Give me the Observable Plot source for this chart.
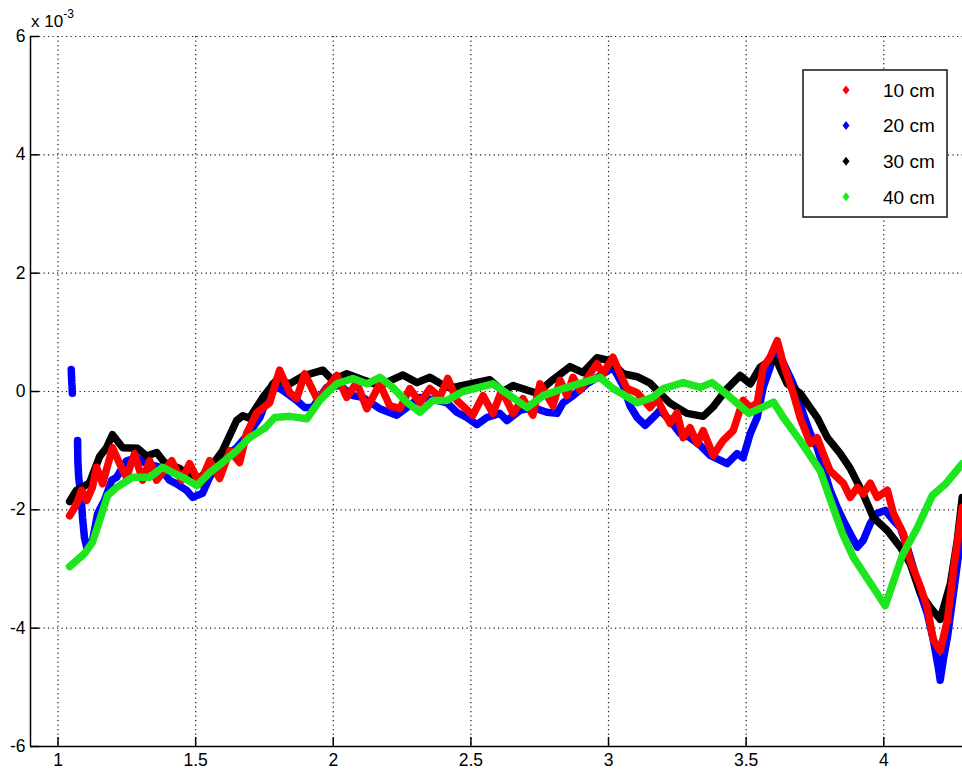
<!DOCTYPE html>
<html><head><meta charset="utf-8">
<script src="https://cdn.jsdelivr.net/npm/d3@7"></script>
<script src="https://cdn.jsdelivr.net/npm/@observablehq/plot@0.6"></script>
<style>
body{margin:0;background:#fff;}
#wrap{position:relative;width:962px;height:771px;overflow:hidden;font-family:"Liberation Sans",Arial,sans-serif;}
#exp{position:absolute;left:31px;top:9px;font-size:17px;color:#000;}
#exp sup{font-size:12px;position:relative;top:-2px;}
#legend{position:absolute;left:802px;top:69px;}
</style></head><body><div id="wrap"><div id="exp">x 10<sup>-3</sup></div></div>
<script>
// ---- data ----
const series = ["10 cm", "20 cm", "30 cm", "40 cm"];
const colors = ["#ff0000", "#0000ff", "#000000", "#1ee61e"];
const xTicks = [1, 1.5, 2, 2.5, 3, 3.5, 4];
const yTicks = [-6, -4, -2, 0, 2, 4, 6];
const xDomain = [0.9, 4.286];
const yDomain = [-6, 6];

const x10 = [1.042,1.067,1.085,1.104,1.125,1.14,1.162,1.198,1.224,1.249,1.278,1.307,1.333,1.358,1.413,1.449,1.478,1.515,1.551,1.587,1.624,1.66,1.685,1.722,1.769,1.805,1.842,1.867,1.896,1.944,2.013,2.049,2.085,2.122,2.169,2.205,2.242,2.278,2.315,2.351,2.387,2.416,2.449,2.507,2.544,2.58,2.612,2.653,2.689,2.725,2.751,2.798,2.824,2.849,2.871,2.896,2.933,2.958,2.98,3.016,3.042,3.067,3.104,3.151,3.176,3.198,3.224,3.249,3.271,3.296,3.322,3.344,3.38,3.416,3.453,3.489,3.515,3.54,3.562,3.587,3.613,3.635,3.671,3.696,3.733,3.758,3.78,3.805,3.853,3.878,3.904,3.925,3.951,3.976,4.013,4.035,4.071,4.096,4.133,4.158,4.18,4.205,4.231,4.253,4.285];
const y10 = [-2.10,-1.91,-1.67,-1.84,-1.62,-1.28,-1.56,-0.95,-1.22,-1.45,-1.05,-1.5,-1.17,-1.5,-1.17,-1.5,-1.22,-1.56,-1.17,-1.47,-1.0,-1.2,-0.71,-0.36,-0.19,0.36,-0.02,-0.12,0.3,-0.15,0.27,-0.1,0.15,-0.29,0.13,-0.24,-0.29,0.05,-0.19,0.05,-0.1,0.22,-0.15,-0.4,-0.07,-0.37,0.02,-0.37,-0.12,-0.4,0.13,-0.24,0.19,-0.07,0.24,0.02,0.3,0.47,0.3,0.58,0.3,0.05,-0.02,-0.27,-0.12,-0.32,-0.54,-0.36,-0.78,-0.61,-0.88,-0.66,-1.08,-0.83,-0.66,-0.15,-0.27,-0.2,0.41,0.58,0.86,0.47,-0.03,-0.44,-0.88,-0.78,-1.05,-1.34,-1.55,-1.79,-1.62,-1.73,-1.55,-1.79,-1.67,-2.06,-2.4,-2.86,-3.3,-3.65,-4.2,-4.38,-3.87,-3.02,-1.96];

const x20 = [1.048,1.05,1.051,1.052,1.06,1.071,1.072,1.075,1.085,1.089,1.096,1.104,1.125,1.144,1.169,1.195,1.213,1.249,1.285,1.322,1.369,1.405,1.431,1.467,1.489,1.525,1.551,1.598,1.649,1.696,1.733,1.78,1.816,1.867,1.896,1.925,1.976,2.024,2.071,2.107,2.169,2.231,2.253,2.315,2.376,2.413,2.449,2.485,2.522,2.558,2.605,2.631,2.678,2.725,2.776,2.813,2.835,2.871,2.922,2.98,3.016,3.053,3.078,3.104,3.133,3.162,3.187,3.224,3.26,3.296,3.333,3.369,3.431,3.467,3.489,3.515,3.54,3.562,3.587,3.605,3.631,3.66,3.685,3.707,3.733,3.758,3.78,3.805,3.831,3.853,3.878,3.904,3.925,3.951,3.976,4.005,4.035,4.06,4.085,4.107,4.133,4.158,4.18,4.198,4.205,4.216,4.231,4.253,4.285];
const y20 = [0.37,0.15,0.08,-0.03,NaN,-0.83,-1.17,-1.45,-1.84,-2.13,-2.47,-2.63,-2.52,-2.06,-1.84,-1.5,-1.45,-1.17,-1.12,-1.22,-1.28,-1.5,-1.56,-1.67,-1.79,-1.72,-1.45,-1.12,-0.95,-0.69,-0.44,0.13,0.02,-0.15,-0.27,-0.27,0.07,0.1,-0.07,-0.1,-0.29,-0.4,-0.32,-0.1,-0.15,-0.19,-0.35,-0.44,-0.56,-0.44,-0.37,-0.49,-0.32,-0.27,-0.35,-0.37,-0.19,-0.07,0.13,0.3,0.41,0.1,-0.24,-0.44,-0.57,-0.44,-0.32,-0.49,-0.71,-0.78,-0.91,-1.08,-1.22,-1.05,-1.12,-0.71,-0.44,0.07,0.41,0.69,0.52,0.24,-0.03,-0.37,-0.71,-0.95,-1.28,-1.67,-1.96,-2.18,-2.4,-2.63,-2.52,-2.23,-2.06,-2.01,-2.18,-2.3,-2.63,-2.97,-3.41,-3.75,-4.2,-4.66,-4.88,-4.54,-4.16,-3.41,-2.3];

const x30 = [1.042,1.067,1.089,1.115,1.151,1.176,1.198,1.235,1.289,1.322,1.358,1.387,1.442,1.489,1.507,1.551,1.598,1.649,1.671,1.696,1.744,1.795,1.842,1.889,1.962,1.998,2.049,2.107,2.169,2.253,2.304,2.351,2.413,2.449,2.496,2.569,2.616,2.653,2.74,2.798,2.86,2.907,2.958,3.005,3.053,3.104,3.151,3.187,3.224,3.285,3.344,3.38,3.431,3.478,3.515,3.551,3.587,3.613,3.649,3.696,3.758,3.795,3.842,3.878,3.925,3.962,4.013,4.06,4.096,4.133,4.169,4.205,4.242,4.267,4.285];
const y30 = [-1.86,-1.67,-1.62,-1.54,-1.1,-0.95,-0.73,-0.95,-0.96,-1.09,-1.03,-1.2,-1.3,-1.47,-1.5,-1.3,-1.0,-0.49,-0.41,-0.45,-0.1,0.2,0.13,0.26,0.36,0.19,0.3,0.2,0.1,0.28,0.15,0.24,0.07,0.08,0.13,0.2,0.0,0.1,-0.03,0.2,0.42,0.32,0.57,0.52,0.3,0.25,0.14,-0.03,-0.2,-0.37,-0.42,-0.26,0.05,0.27,0.13,0.41,0.52,0.5,0.13,-0.03,-0.44,-0.78,-1.05,-1.3,-1.73,-2.13,-2.35,-2.63,-2.91,-3.41,-3.65,-3.85,-3.25,-2.52,-1.79];

const x40 = [1.042,1.096,1.125,1.151,1.18,1.213,1.271,1.333,1.38,1.416,1.453,1.504,1.551,1.598,1.649,1.696,1.751,1.787,1.842,1.904,1.951,1.976,2.013,2.071,2.122,2.169,2.216,2.267,2.315,2.362,2.413,2.471,2.58,2.704,2.762,2.835,2.885,2.969,3.016,3.104,3.16,3.2,3.271,3.333,3.376,3.43,3.51,3.6,3.635,3.696,3.769,3.816,3.85,3.889,3.96,4.005,4.069,4.12,4.176,4.227,4.285];
const y40 = [-2.96,-2.74,-2.55,-2.18,-1.76,-1.62,-1.45,-1.45,-1.28,-1.37,-1.45,-1.59,-1.37,-1.2,-1.0,-0.78,-0.62,-0.44,-0.42,-0.46,-0.15,-0.03,0.13,0.22,0.13,0.24,0.07,-0.18,-0.35,-0.15,-0.15,0.0,0.13,-0.27,-0.07,0.05,0.12,0.24,0.05,-0.19,-0.1,0.05,0.15,0.07,0.15,-0.05,-0.37,-0.18,-0.44,-0.83,-1.34,-1.96,-2.4,-2.8,-3.3,-3.62,-2.75,-2.32,-1.76,-1.55,-1.22];

// ---- build ----
const W = 962, H = 771, mL = 30, mR = 0, mT = 36, mB = 25;
const toRows = (xs, ys, s) => xs.map((x, i) => ({x, y: ys[i], s}));
const r10 = toRows(x10, y10, series[0]);
const r20 = toRows(x20, y20, series[1]);
const r30 = toRows(x30, y30, series[2]);
const r40 = toRows(x40, y40, series[3]);
const color = s => colors[series.indexOf(s)];
const lineOpts = (s) => ({x: "x", y: "y", stroke: color(s), strokeWidth: 7.5, strokeLinejoin: "round", strokeLinecap: "round"});
const grid = {stroke: "#000", strokeWidth: 1.2, strokeDasharray: "1.2,3.3", strokeOpacity: 0.9};

const chart = Plot.plot({
  width: W, height: H,
  marginLeft: mL, marginRight: mR, marginTop: mT, marginBottom: mB,
  style: {fontFamily: '"Liberation Sans Narrow","Liberation Sans",Arial,sans-serif', fontSize: "17.5px", color: "#000", background: "#fff"},
  x: {domain: xDomain, ticks: xTicks, tickSize: 0, tickPadding: 7, tickFormat: d => String(d), label: null},
  y: {domain: yDomain, ticks: yTicks, tickSize: 0, tickPadding: 5, tickFormat: d => String(d), label: null},
  marks: [
    Plot.ruleX(xTicks, grid),
    Plot.ruleY(yTicks.filter(d => d > yDomain[0]), grid),
    Plot.tickX(xTicks, {x: d => d, insetTop: H - mT - mB - 9, stroke: "#000", strokeWidth: 1.5}),
    Plot.tickY(yTicks, {y: d => d, insetRight: W - mL - mR - 9, stroke: "#000", strokeWidth: 1.5}),
    Plot.line(r20, lineOpts(series[1])),
    Plot.line(r30, lineOpts(series[2])),
    Plot.line(r10, lineOpts(series[0])),
    Plot.line(r40, lineOpts(series[3])),
    Plot.ruleX([xDomain[0]], {stroke: "#000", strokeWidth: 1.5}),
    Plot.ruleY([yDomain[0]], {stroke: "#000", strokeWidth: 1.5})
  ]
});
const wrap = document.getElementById("wrap");
wrap.insertBefore(chart, wrap.firstChild);

// legend overlay
const lg = d3.select(wrap).append("svg").attr("id", "legend").attr("width", 147).attr("height", 150);
lg.append("rect").attr("x", 1).attr("y", 1).attr("width", 144).attr("height", 147)
  .attr("fill", "#fff").attr("stroke", "#222").attr("stroke-width", 1.6);
series.forEach((s, i) => {
  const cy = 21 + i * 35.6;
  lg.append("path").attr("d", `M44,${cy-4.5}L47.5,${cy}L44,${cy+4.5}L40.5,${cy}Z`).attr("fill", colors[i]);
  lg.append("text").attr("x", 81).attr("y", cy).attr("dy", "0.36em")
    .attr("font-family", '"Liberation Sans",Arial,sans-serif').attr("font-size", 19).text(s);
});
</script></body></html>
